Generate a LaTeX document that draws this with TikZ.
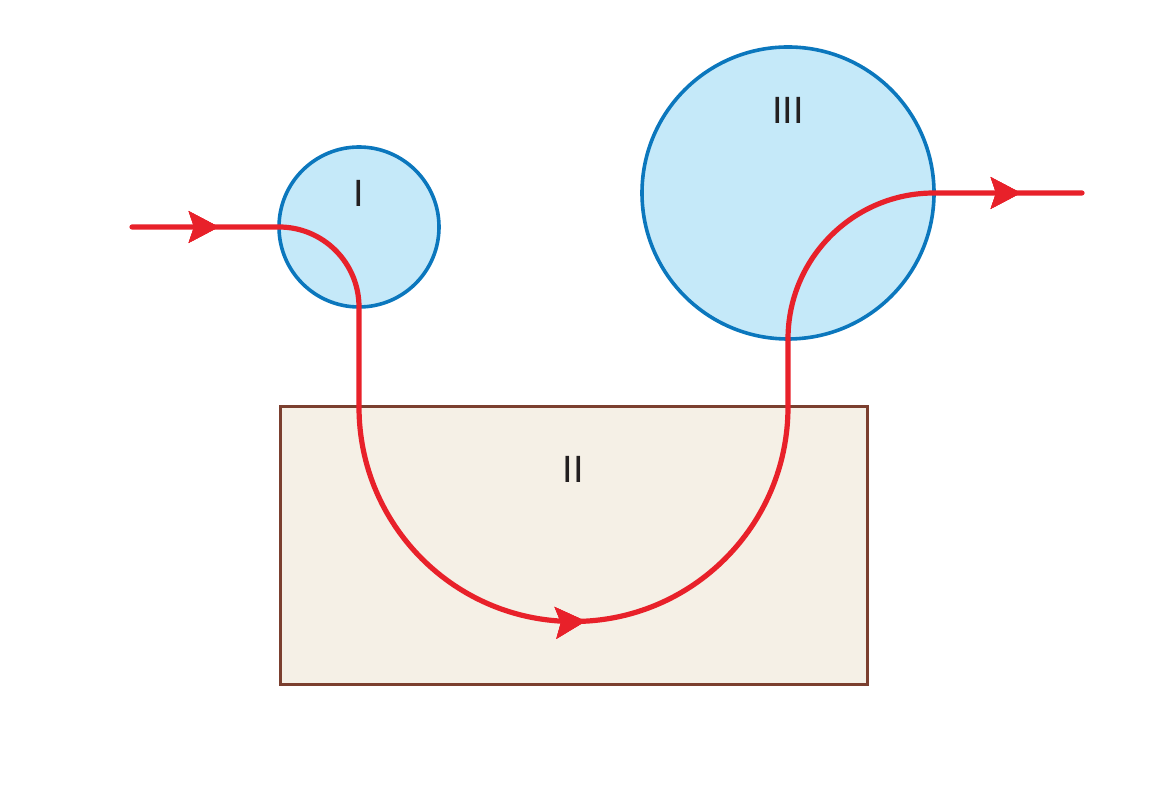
\documentclass[tikz,border=0pt]{standalone}
\usepackage{fontspec}
\setmainfont{Liberation Sans}
\usetikzlibrary{arrows.meta,decorations.markings}
\definecolor{cfill}{HTML}{C5E9F9}
\definecolor{cline}{HTML}{0B77BD}
\definecolor{rfill}{HTML}{F5F0E6}
\definecolor{rline}{HTML}{7B3F2F}
\definecolor{flow}{HTML}{E8212A}
\definecolor{txt}{HTML}{231F20}
\begin{document}
\begin{tikzpicture}[x=1pt,y=1pt,
  zone/.style={circle,draw=cline,fill=cfill,line width=3.6pt,inner sep=0pt,outer sep=0pt},
  box/.style={rectangle,draw=rline,fill=rfill,line width=3pt,inner sep=0pt,outer sep=0pt},
  lbl/.style={text=txt,font=\fontsize{38}{44}\selectfont,inner sep=0pt},
  tipm/.style={decoration={markings,mark=at position #1 with {\arrow{Stealth[length=30pt,width=31pt,inset=5pt]}}},postaction={decorate}},
  flowline/.style={draw=flow,line width=5.2pt,line cap=round,line join=round}]
\useasboundingbox (0,0) rectangle (1166,789);
\node[box,minimum width=587pt,minimum height=278pt] (r2) at (573.5,243) {};
\node[zone,minimum size=160pt] (c1) at (359,562) {};
\node[zone,minimum size=292pt] (c3) at (788,596) {};
\node[lbl] (l1) at (359,596) {I};
\node[lbl] (l2) at (573,320) {II};
\node[lbl] (l3) at (788,679) {III};
\coordinate (start) at (132,562);
\coordinate (finish) at (1082,596);
\path[flowline,fill=none,
  tipm=87pt,tipm=722pt,tipm=1431pt]
  (start) -- (c1.west) arc[start angle=90,end angle=0,radius=80pt]
  -- (359,382) arc[start angle=180,end angle=360,radius=214.5pt]
  -- (c3.south) arc[start angle=180,end angle=90,radius=146pt]
  -- (finish);
\end{tikzpicture}
\end{document}
